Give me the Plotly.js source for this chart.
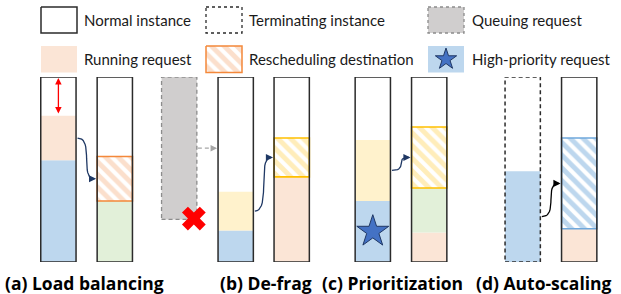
<!DOCTYPE html>
<html><head><meta charset="utf-8">
<script src="https://cdn.plot.ly/plotly-3.0.1.min.js"></script>
<style>html,body{margin:0;padding:0;background:#fff}#chart{width:621px;height:294px}</style>
</head><body><div id="chart"></div>
<script>
// ---------- DATA (percent of instance memory capacity) ----------
const instances       = ['a-source','a-dest','b-source','b-dest','c-source','c-dest','d-source','d-dest'];
const capacity        = [100,100,100,100,100,100,100,100];
const highPriorityReq = [55, 0, 17,  0, 33,  0, 49,  0];   // blue
const runningReq      = [24, 0,  0, 46,  0, 16,  0, 18];   // peach
const otherReq        = [ 0,33,  0,  0,  0, 24,  0,  0];   // green
const lowPriorityReq  = [ 0, 0, 21,  0, 33,  0,  0,  0];   // yellow
const rescheduledReq  = [ 0,24,  0, 21,  0, 33,  0, 49];   // hatched destination
const terminating     = [false,false,false,false,false,false,true,false];
const queuingReq      = 77;     // queued request waiting for b-source
const migrations      = [[0,1],[2,3],[4,5],[6,7]];          // source -> destination
const panelLabels     = ['(a) Load balancing','(b) De-frag','(c) Prioritization','(d) Auto-scaling'];
const legendLabels    = ['Normal instance','Terminating instance','Queuing request',
                         'Running request','Rescheduling destination','High-priority request'];

// ---------- LAYOUT / STYLE ----------
const slotX  = [58.4,114.8,235.7,291.7,372.8,429.2,522.7,579.2];
const queueX = 179.2;
const barW   = 35.3;
const panelX = [84,266,392,544];
const FONT = 'Lato, "Open Sans", sans-serif';
const LABEL_FONT = '"Open Sans", "Noto Sans", sans-serif';
const C = {blue:'#BDD7EE', peach:'#FBE5D6', green:'#E2F0D9', yellow:'#FFF2CC', gray:'#D0CECE', outline:'#2b2b2b'};
const hatchStyle = [null,
  {fg:'#FBDFCC', border:'#F4883A'}, null,
  {fg:'#FFEDBA', border:'#FFC000'}, null,
  {fg:'#FFEDBA', border:'#FFC000'}, null,
  {fg:'#BDD7EE', border:'#6FA8DC'}];
const arrowColor = ['#1F3864','#1F3864','#1F3864','#000000'];

const traces = [];
const annotations = [];
const layers = [
  {vals: highPriorityReq, color: C.blue},
  {vals: runningReq, color: C.peach},
  {vals: otherReq, color: C.green},
  {vals: lowPriorityReq, color: C.yellow},
  {vals: rescheduledReq, hatch: true}
];
const bases = instances.map(() => 0);
const segMid = instances.map(() => []);
layers.forEach(L => {
  L.vals.forEach((v, i) => {
    if (!v) return;
    const b = bases[i];
    const mk = L.hatch
      ? {color:'white', pattern:{shape:'\\', fgcolor:hatchStyle[i].fg, bgcolor:'white', size:9, solidity:0.55},
         line:{color:hatchStyle[i].border, width:1.6}}
      : {color:L.color, line:{width:0}};
    traces.push({type:'bar', x:[slotX[i]], y:[v], base:[b], width:barW, marker:mk,
                 hoverinfo:'skip', showlegend:false});
    segMid[i].push({mid: b + v/2, hatch: !!L.hatch});
    bases[i] += v;
  });
});

// queuing request (gray dashed box, top-aligned with the instances)
const qBase = capacity[2] - queuingReq, qTop = capacity[2];
traces.push({type:'scatter', mode:'lines', fill:'toself', fillcolor:C.gray,
  x:[queueX-barW/2, queueX+barW/2, queueX+barW/2, queueX-barW/2, queueX-barW/2],
  y:[qBase, qBase, qTop, qTop, qBase],
  line:{color:'#8C8C8C', width:1.3, dash:'4px,3px'}, hoverinfo:'skip', showlegend:false});
const qMid = qBase + queuingReq/2;
traces.push({type:'scatter', mode:'lines', x:[queueX+barW/2+1, slotX[2]-barW/2-4], y:[qMid,qMid],
  line:{color:'#A6A6A6', width:1.3, dash:'4px,3px'}, hoverinfo:'skip', showlegend:false});
annotations.push({x:slotX[2]-barW/2-1, y:qMid, ax:slotX[2]-barW/2-6, ay:qMid, xref:'x', yref:'y', axref:'x', ayref:'y',
  showarrow:true, arrowhead:2, arrowsize:1, arrowwidth:1.3, arrowcolor:'#A6A6A6', text:''});
traces.push({type:'scatter', mode:'markers', x:[queueX+barW/2-3], y:[qBase+0.5], cliponaxis:false,
  marker:{symbol:'x', size:21, color:'#FF0000', line:{width:0}}, hoverinfo:'skip', showlegend:false});

// instance outlines
instances.forEach((n, i) => {
  if (terminating[i]) {
    const l = slotX[i]-barW/2, r = slotX[i]+barW/2;
    traces.push({type:'scatter', mode:'lines', x:[l,r,r,l,l], y:[0,0,capacity[i],capacity[i],0],
      line:{color:C.outline, width:1.5, dash:'4px,3px'}, hoverinfo:'skip', showlegend:false});
  } else {
    traces.push({type:'bar', x:[slotX[i]], y:[capacity[i]], base:[0], width:barW,
      marker:{color:'rgba(0,0,0,0)', line:{color:C.outline, width:1.5}}, hoverinfo:'skip', showlegend:false});
  }
});

// star on high-priority request (c-source)
traces.push({type:'scatter', mode:'markers', x:[slotX[4]], y:[segMid[4][0].mid],
  marker:{symbol:'star', size:24, color:'#4472C4', line:{color:'#203864', width:1}}, hoverinfo:'skip', showlegend:false});

// red double arrow (free space on a-source)
annotations.push({x:slotX[0], y:capacity[0]-0.5, ax:slotX[0], ay:bases[0]+0.5, xref:'x', yref:'y', axref:'x', ayref:'y',
  showarrow:true, arrowhead:2, startarrowhead:2, arrowside:'end+start', arrowsize:1, startarrowsize:1,
  arrowwidth:1.3, arrowcolor:'#FF0000', text:''});

// migration arrows (S-curves)
migrations.forEach(([s, d], k) => {
  const src = segMid[s][segMid[s].length-1].mid;
  const dst = segMid[d].find(o => o.hatch).mid;
  const x0 = slotX[s]+barW/2+1.5, x1 = slotX[d]-barW/2-1;
  const dx = x1 - x0;
  const xs = [], ys = [];
  for (let t = 0; t <= 1.0001; t += 0.05) {
    const u = 1-t;
    const P = [[x0,src],[x0+dx*0.9,src],[x1-dx*0.9,dst],[x1-2,dst]];
    xs.push(u*u*u*P[0][0]+3*u*u*t*P[1][0]+3*u*t*t*P[2][0]+t*t*t*P[3][0]);
    ys.push(u*u*u*P[0][1]+3*u*u*t*P[1][1]+3*u*t*t*P[2][1]+t*t*t*P[3][1]);
  }
  traces.push({type:'scatter', mode:'lines', x:xs, y:ys, line:{color:arrowColor[k], width:1.3},
    hoverinfo:'skip', showlegend:false});
  annotations.push({x:x1, y:dst, ax:x1-5, ay:dst, xref:'x', yref:'y', axref:'x', ayref:'y',
    showarrow:true, arrowhead:2, arrowsize:1.1, arrowwidth:1.3, arrowcolor:arrowColor[k], text:''});
});

// panel labels
panelLabels.forEach((t, k) => annotations.push({x:panelX[k], y:283, xref:'x', yref:'y2', text:'<b>'+t+'</b>',
  showarrow:false, font:{family:LABEL_FONT, size:17.5, color:'#000'}, xanchor:'center', yanchor:'middle'}));

// ---------- legend (pixel-space axis y2) ----------
const legBoxX = [41,206,428], legBoxW = 36, legRowY = [[7,33],[46,72.5]], legTextX = [82,247,470];
function box(xl, yr, extra) {
  return Object.assign({type:'scatter', mode:'lines', yaxis:'y2',
    x:[xl, xl+legBoxW, xl+legBoxW, xl, xl], y:[yr[0],yr[0],yr[1],yr[1],yr[0]],
    hoverinfo:'skip', showlegend:false}, extra);
}
traces.push(box(legBoxX[0], legRowY[0], {line:{color:C.outline, width:1.5}}));
traces.push(box(legBoxX[1], legRowY[0], {line:{color:C.outline, width:1.3, dash:'3px,3px'}}));
traces.push(box(legBoxX[2], legRowY[0], {fill:'toself', fillcolor:C.gray, line:{color:'#8C8C8C', width:1.3, dash:'3px,3px'}}));
traces.push(box(legBoxX[0], legRowY[1], {fill:'toself', fillcolor:C.peach, line:{width:0}}));
traces.push(box(legBoxX[1], legRowY[1], {fill:'toself', fillcolor:'white',
  fillpattern:{shape:'\\', fgcolor:'#FBDFCC', bgcolor:'white', size:9, solidity:0.55}, line:{color:'#F4883A', width:1.5}}));
traces.push(box(legBoxX[2], legRowY[1], {fill:'toself', fillcolor:C.blue, line:{width:0}}));
traces.push({type:'scatter', mode:'markers', yaxis:'y2', x:[legBoxX[2]+legBoxW/2], y:[(legRowY[1][0]+legRowY[1][1])/2],
  marker:{symbol:'star', size:16, color:'#4472C4', line:{color:'#203864', width:1}}, hoverinfo:'skip', showlegend:false});
legendLabels.forEach((t, k) => annotations.push({x:legTextX[k%3], y:(legRowY[Math.floor(k/3)][0]+legRowY[Math.floor(k/3)][1])/2,
  xref:'x', yref:'y2', text:t, showarrow:false, xanchor:'left', yanchor:'middle',
  font:{family:FONT, size:15, color:'#1a1a1a'}}));

const layout = {
  width:621, height:294, margin:{l:0,r:0,t:0,b:0}, paper_bgcolor:'white', plot_bgcolor:'rgba(0,0,0,0)',
  barmode:'overlay', showlegend:false,
  xaxis:{range:[0,621], visible:false, fixedrange:true},
  yaxis:{range:[0,100], domain:[1-262/294, 1-77/294], visible:false, fixedrange:true},
  yaxis2:{range:[294,0], domain:[0,1], anchor:'x', visible:false, fixedrange:true},
  annotations: annotations
};
Plotly.newPlot('chart', traces, layout, {staticPlot:true, displayModeBar:false});
</script></body></html>
